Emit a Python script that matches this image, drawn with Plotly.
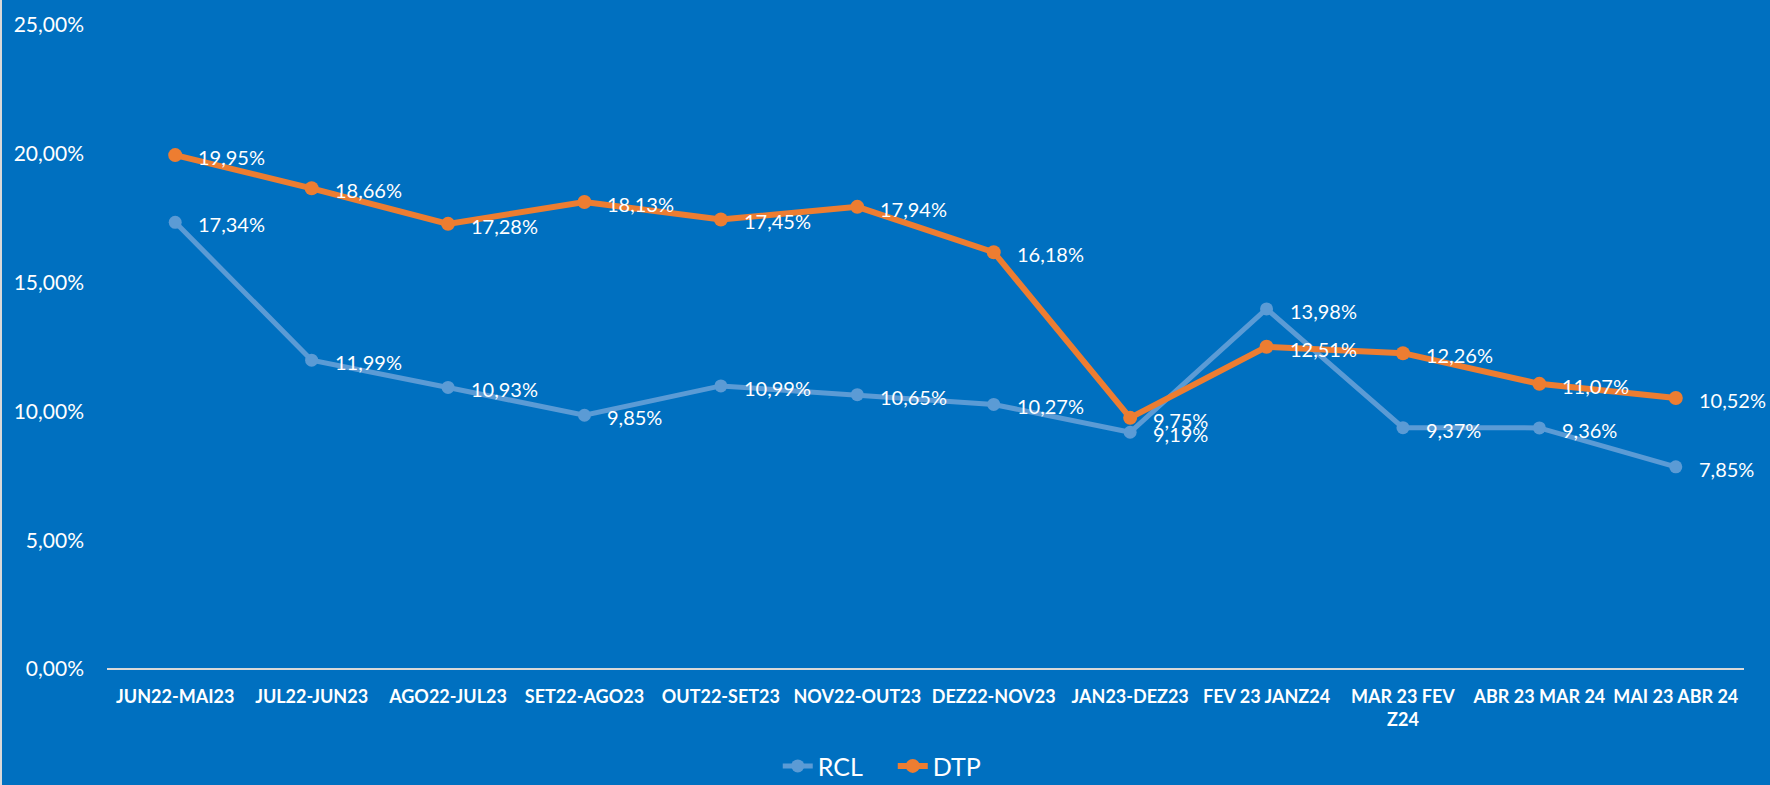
import plotly.graph_objects as go

categories = ["JUN22-MAI23", "JUL22-JUN23", "AGO22-JUL23", "SET22-AGO23", "OUT22-SET23",
              "NOV22-OUT23", "DEZ22-NOV23", "JAN23-DEZ23", "FEV 23 JANZ24",
              "MAR 23 FEV<br>Z24", "ABR 23 MAR 24", "MAI 23 ABR 24"]
rcl = [17.34, 11.99, 10.93, 9.85, 10.99, 10.65, 10.27, 9.19, 13.98, 9.37, 9.36, 7.85]
dtp = [19.95, 18.66, 17.28, 18.13, 17.45, 17.94, 16.18, 9.75, 12.51, 12.26, 11.07, 10.52]
y_ticks = [0, 5, 10, 15, 20, 25]
y_tick_labels = ["0,00%", "5,00%", "10,00%", "15,00%", "20,00%", "25,00%"]

BG = "#0070C0"
RCL_C = "#5B9BD5"
DTP_C = "#ED7D31"
FONT = "Lato"

x = list(range(len(categories)))

fig = go.Figure()
fig.add_trace(go.Scatter(x=x, y=rcl, name="RCL", mode="lines+markers",
                         line=dict(color=RCL_C, width=5),
                         marker=dict(color=RCL_C, size=13)))
fig.add_trace(go.Scatter(x=x, y=dtp, name="DTP", mode="lines+markers",
                         line=dict(color=DTP_C, width=6),
                         marker=dict(color=DTP_C, size=14)))

def fmt(v):
    return f"{v:.2f}".replace(".", ",") + "%"

for series in (rcl, dtp):
    for i, v in enumerate(series):
        fig.add_annotation(x=i, y=v, text=fmt(v), showarrow=False,
                           xanchor="left", yanchor="middle", xshift=21, yshift=-2,
                           font=dict(family=FONT, size=20, color="white"))

fig.add_shape(type="rect", xref="paper", yref="paper", xsizemode="pixel", xanchor=0,
              x0=-107, x1=-105, y0=-0.3, y1=1.1, line_width=0, fillcolor="#D9D9D9")

fig.update_layout(
    width=1770, height=785,
    paper_bgcolor=BG, plot_bgcolor=BG,
    margin=dict(l=107, r=26, t=25, b=116, autoexpand=False),
    font=dict(family=FONT, color="white"),
    showlegend=True,
    legend=dict(orientation="h", x=0.48, xanchor="center",
                yref="container", y=0.024, yanchor="middle",
                entrywidth=70, entrywidthmode="pixels",
                font=dict(family=FONT, size=25, color="white"), bgcolor="rgba(0,0,0,0)"),
    xaxis=dict(range=[-0.5, 11.5], tickvals=x, ticktext=categories, showgrid=False,
               zeroline=False, showline=False,
               tickfont=dict(family=FONT, size=18, color="white", weight="bold"),
               ticklabelstandoff=15),
    yaxis=dict(range=[0, 25], tickvals=y_ticks, ticktext=y_tick_labels,
               showgrid=False, zeroline=True, zerolinecolor="#D9D9D9", zerolinewidth=2,
               showline=False, tickfont=dict(family=FONT, size=21, color="white"),
               ticklabelstandoff=22),
)

fig.write_html("out.html", config={"displayModeBar": False},
               post_script="document.body.style.margin='0';document.body.style.overflow='hidden';")
